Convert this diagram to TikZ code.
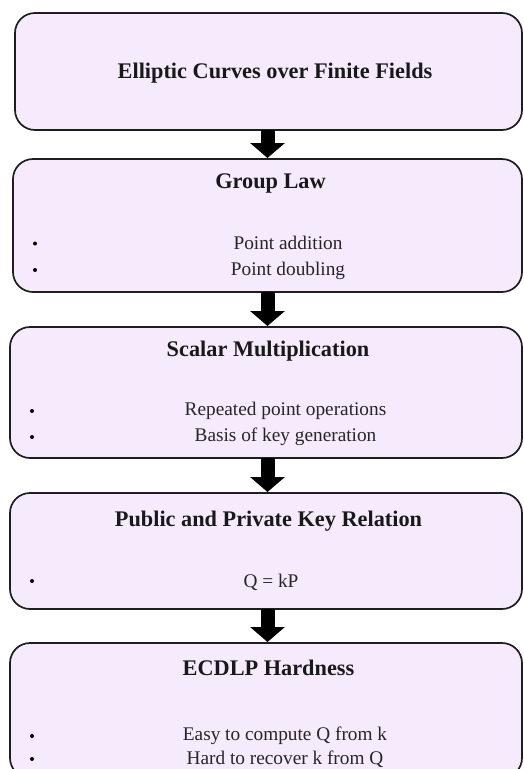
\documentclass[tikz,border=0pt]{standalone}
\usepackage{fontspec}
\setmainfont{Liberation Serif}
\usetikzlibrary{arrows.meta}
\definecolor{boxfill}{RGB}{245,235,252}
\definecolor{boxline}{RGB}{30,30,30}
\tikzset{
  stagebox/.style={draw=boxline, fill=boxfill, line width=1.7pt, rounded corners=20pt,
    anchor=north west, inner sep=0pt, outer sep=0pt},
  titletext/.style={anchor=base, inner sep=0pt, font=\fontsize{22.3}{26}\selectfont\bfseries, text=black!90},
  itemtext/.style={anchor=base, inner sep=0pt, font=\fontsize{19.3}{23}\selectfont, text=black!85},
  flowarrow/.style={draw=black, line width=14pt, -{Triangle[width=34pt,length=15pt]}},
  bulletdot/.style={fill=black}
}
\begin{document}
\begin{tikzpicture}[x=1pt,y=-1pt]
\useasboundingbox (0,0) rectangle (523,769);
\clip (0,0) rectangle (523,769);
% boxes
\node[stagebox, minimum width=507pt, minimum height=117pt] (b1) at (15,13) {};
\node[stagebox, minimum width=509pt, minimum height=133pt] (b2) at (13,159) {};
\node[stagebox, minimum width=512pt, minimum height=131pt] (b3) at (10,327) {};
\node[stagebox, minimum width=512pt, minimum height=116pt] (b4) at (10,493) {};
\node[stagebox, minimum width=512pt, minimum height=135pt] (b5) at (10,643) {};
% arrows
\coordinate (a1s) at (267.5,130); \coordinate (a1e) at (267.5,158);
\coordinate (a2s) at (267.5,292); \coordinate (a2e) at (267.5,326);
\coordinate (a3s) at (267.5,458); \coordinate (a3e) at (267.5,492);
\coordinate (a4s) at (267.5,609); \coordinate (a4e) at (267.5,642);
\draw[flowarrow] (a1s) -- (a1e);
\draw[flowarrow] (a2s) -- (a2e);
\draw[flowarrow] (a3s) -- (a3e);
\draw[flowarrow] (a4s) -- (a4e);
% texts
\node[titletext] (t1) at (275,78) {Elliptic Curves over Finite Fields};
\node[titletext] (t2) at (270.5,188.5) {Group Law};
\node[itemtext] (t2a) at (288,249.5) {Point addition};
\node[itemtext] (t2b) at (288,275.5) {Point doubling};
\node[titletext] (t3) at (268,356.5) {Scalar Multiplication};
\node[itemtext] (t3a) at (285.5,415.5) {Repeated point operations};
\node[itemtext] (t3b) at (285.5,441.5) {Basis of key generation};
\node[titletext] (t4) at (268.5,526.5) {Public and Private Key Relation};
\node[itemtext] (t4a) at (271,587) {Q = kP};
\node[titletext] (t5) at (268.5,675) {ECDLP Hardness};
\node[itemtext] (t5a) at (285,740.5) {Easy to compute Q from k};
\node[itemtext] (t5b) at (285,764.5) {Hard to recover k from Q};
% bullets
\fill[bulletdot] (35,243.5) circle (2pt);
\fill[bulletdot] (35,270) circle (2pt);
\fill[bulletdot] (32,411) circle (2pt);
\fill[bulletdot] (32,437) circle (2pt);
\fill[bulletdot] (32,581) circle (2pt);
\fill[bulletdot] (32,736) circle (2pt);
\fill[bulletdot] (32,759) circle (2pt);
\end{tikzpicture}
\end{document}
